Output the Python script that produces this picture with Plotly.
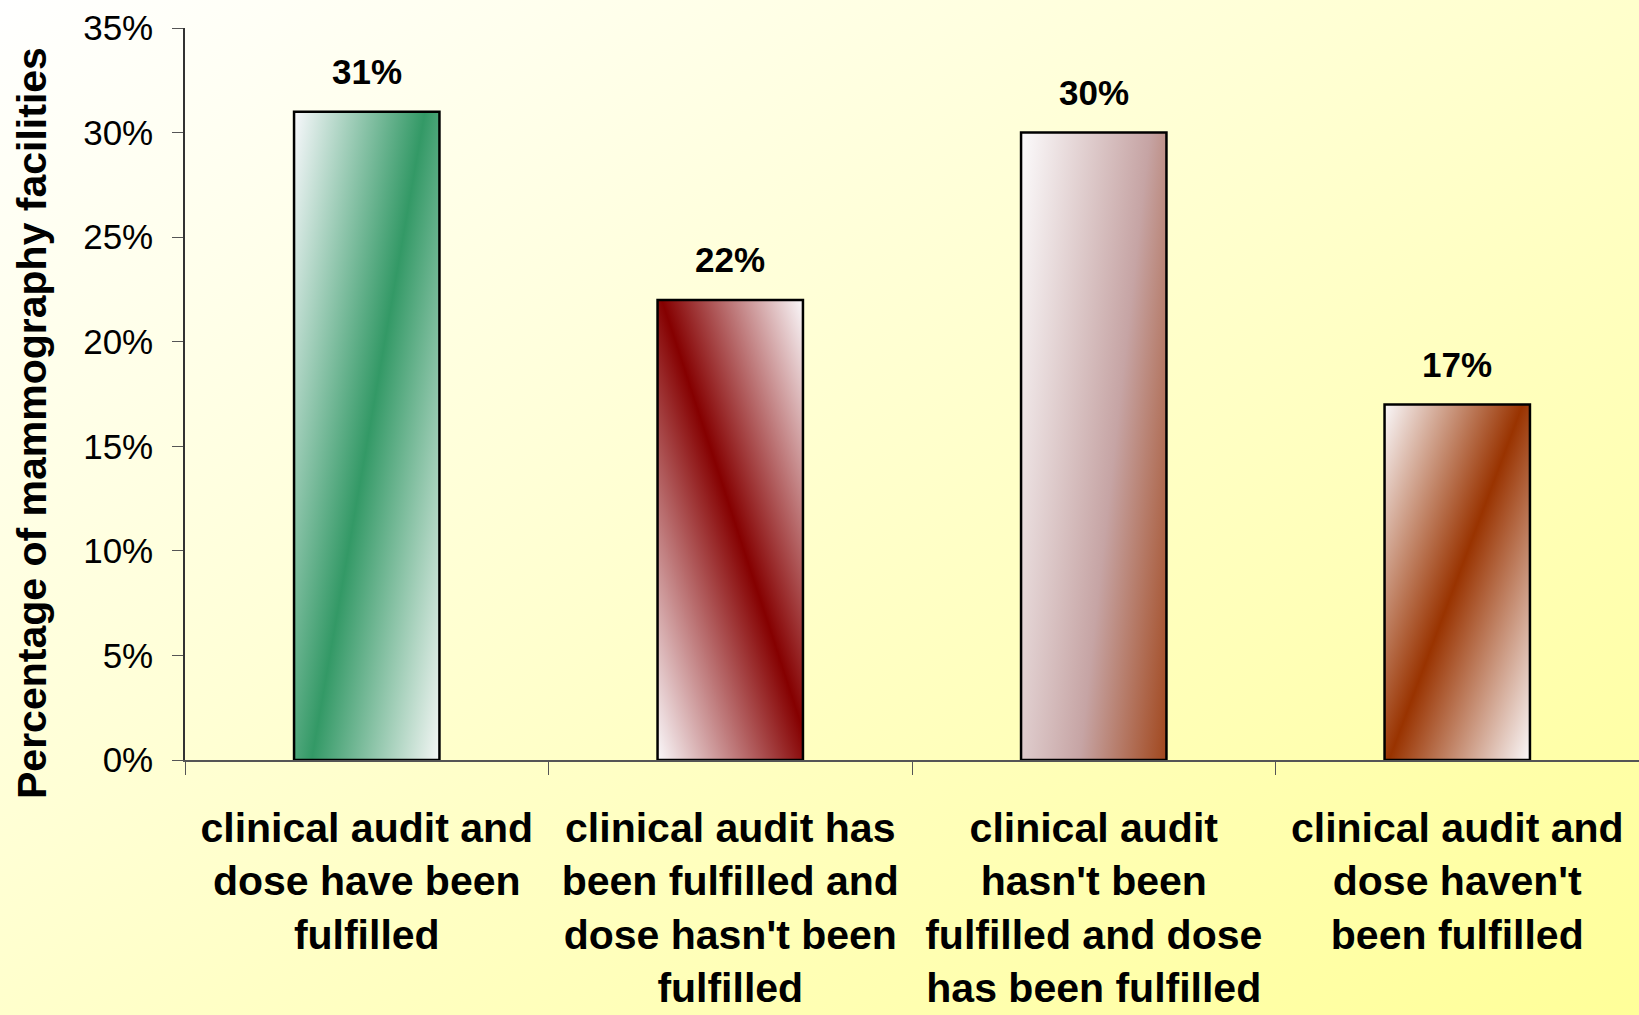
import base64
import plotly.graph_objects as go

# ---------------- data ----------------
categories = [
    "clinical audit and<br>dose have been<br>fulfilled",
    "clinical audit has<br>been fulfilled and<br>dose hasn't been<br>fulfilled",
    "clinical audit<br>hasn't been<br>fulfilled and dose<br>has been fulfilled",
    "clinical audit and<br>dose haven't<br>been fulfilled",
]
values = [31, 22, 30, 17]
y_tick_values = [0, 5, 10, 15, 20, 25, 30, 35]
y_tick_labels = ["0%", "5%", "10%", "15%", "20%", "25%", "30%", "35%"]
y_title = "Percentage of mammography facilities"

# ---------------- styles (gradients) ----------------
FONT = "Liberation Sans, Arial, sans-serif"
BAR_WIDTH = 0.4

# (x1, y1, x2, y2, stops) in bounding-box units
bar_gradients = [
    (0, 0, 1.107, 0.863, [(0, "#F8F8FC"), (0.506, "#339966"), (1, "#F4F6F5")]),
    (0, 1, 0.98, -0.019, [(0, "#FAF8FA"), (0.524, "#850000"), (1, "#FAF8FA")]),
    (0, 0, 1.307, 0.633, [(0, "#FCFBFC"), (0.55, "#C6A4A4"), (1, "#993300")]),
    (0, 0, 1.04, 0.957, [(0, "#FAF8FA"), (0.495, "#993300"), (1, "#FAF8FA")]),
]


def svg_uri(x1, y1, x2, y2, stops):
    st = "".join(f'<stop offset="{o}" stop-color="{c}"/>' for o, c in stops)
    svg = (
        '<svg xmlns="http://www.w3.org/2000/svg" width="100" height="100" '
        'viewBox="0 0 1 1" preserveAspectRatio="none">'
        f'<defs><linearGradient id="g" x1="{x1}" y1="{y1}" x2="{x2}" y2="{y2}">{st}'
        '</linearGradient></defs>'
        '<rect x="0" y="0" width="1" height="1" fill="url(#g)"/></svg>'
    )
    return "data:image/svg+xml;base64," + base64.b64encode(svg.encode()).decode()


images = [
    dict(
        source=svg_uri(0, 0, 1, 1, [(0, "#FFFFFF"), (1, "#FFFF99")]),
        xref="paper", yref="paper", x=-185 / 1454, y=1 + 28 / 732,
        sizex=1639 / 1454, sizey=1015 / 732, xanchor="left", yanchor="top",
        sizing="stretch", layer="below",
    )
]
for i, (v, g) in enumerate(zip(values, bar_gradients)):
    images.append(
        dict(
            source=svg_uri(*g),
            xref="x", yref="y", x=i, y=v, sizex=BAR_WIDTH, sizey=v,
            xanchor="center", yanchor="top", sizing="stretch", layer="below",
        )
    )

fig = go.Figure()
fig.add_trace(
    go.Bar(
        x=categories,
        y=values,
        width=BAR_WIDTH,
        marker=dict(color="rgba(0,0,0,0)", line=dict(color="black", width=2.5)),
        hoverinfo="x+y",
        showlegend=False,
    )
)

annotations = []
for i, v in enumerate(values):
    annotations.append(
        dict(
            x=i, y=v, xref="x", yref="y", text=f"{v}%", showarrow=False,
            yanchor="middle", yshift=40,
            font=dict(family=FONT, size=35, color="black", weight="bold"),
        )
    )
annotations.append(
    dict(
        x=-153 / 1454, y=(760 - 423) / 732, xref="paper", yref="paper",
        text=y_title, showarrow=False, textangle=-90,
        xanchor="center", yanchor="middle",
        font=dict(family=FONT, size=41, color="black", weight="bold"),
    )
)

fig.update_layout(
    width=1639,
    height=1015,
    margin=dict(l=185, r=0, t=28, b=255),
    paper_bgcolor="#FFFFE0",
    plot_bgcolor="rgba(0,0,0,0)",
    images=images,
    annotations=annotations,
    bargap=1 - BAR_WIDTH,
    xaxis=dict(
        type="category",
        range=[-0.5, 3.5],
        tickson="boundaries",
        ticks="outside",
        ticklen=13,
        tickcolor="#555555",
        showline=True,
        linecolor="#555555",
        linewidth=1.5,
        showgrid=False,
        zeroline=False,
        tickfont=dict(family=FONT, size=41, color="black", weight="bold"),
        ticklabelstandoff=31,
    ),
    yaxis=dict(
        range=[0, 35],
        tickvals=y_tick_values,
        ticktext=y_tick_labels,
        ticks="outside",
        ticklen=11,
        tickcolor="#555555",
        showline=True,
        linecolor="#333333",
        linewidth=1.5,
        showgrid=False,
        zeroline=False,
        tickfont=dict(family=FONT, size=35, color="black"),
        ticklabelstandoff=12,
    ),
)

fig.write_html(
    "out.html",
    config={"displayModeBar": False},
    post_script="document.body.style.margin='0';document.body.style.overflow='hidden';",
)
